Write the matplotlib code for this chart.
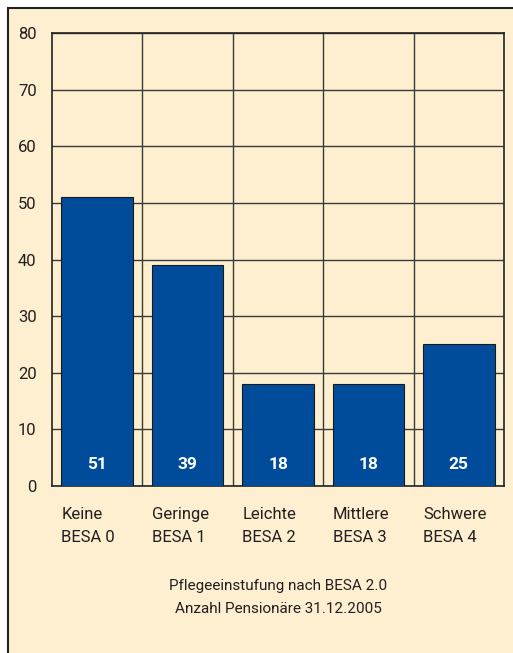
import matplotlib
matplotlib.use("Agg")
import matplotlib.pyplot as plt
from matplotlib.patches import Rectangle
from matplotlib.ticker import FixedLocator

categories = ["Keine\nBESA 0", "Geringe\nBESA 1", "Leichte\nBESA 2", "Mittlere\nBESA 3", "Schwere\nBESA 4"]
values = [51, 39, 18, 18, 25]
yticks = [0, 10, 20, 30, 40, 50, 60, 70, 80]
caption = "Pflegeeinstufung nach BESA 2.0\nAnzahl Pensionäre 31.12.2005"

FONT = ["Roboto", "DejaVu Sans"]
plt.rcParams["font.family"] = FONT

BG = "#FEEFD0"
BAR = "#004C9B"
GRID = "#3A3A3A"
TXT = "#231F20"

W, H = 513, 653
fig = plt.figure(figsize=(W / 100, H / 100), dpi=100, facecolor="white")
bgax = fig.add_axes([0, 0, 1, 1], zorder=-5)
bgax.set_xlim(0, W)
bgax.set_ylim(H, 0)
bgax.axis("off")
bgax.add_patch(Rectangle((8, 8), W + 20, H + 20, facecolor=BG,
                         edgecolor="#222222", lw=1.5))

ax = fig.add_axes([52 / W, 1 - 486 / H, (504 - 52) / W, (486 - 33) / H], zorder=1)
ax.set_facecolor(BG)
n = len(values)
x = list(range(n))
ax.bar(x, values, width=0.79, color=BAR, edgecolor="#1a1a1a", lw=0.8, zorder=3)
ax.set_xlim(-0.5, n - 0.5)
ax.set_ylim(0, 80)
ax.yaxis.set_major_locator(FixedLocator(yticks))
ax.xaxis.set_major_locator(FixedLocator([i + 0.5 for i in range(n - 1)]))
ax.grid(True, color=GRID, lw=1.0, zorder=0)
ax.tick_params(axis="x", length=0, labelbottom=False)
ax.tick_params(axis="y", length=0, labelsize=12, colors=TXT, pad=11)
for s in ax.spines.values():
    s.set_color("#222222")
    s.set_linewidth(1.2)

for i, v in enumerate(values):
    ax.text(i, 3.8, str(v), ha="center", va="center", color="white",
            fontsize=12.5, fontweight="bold", zorder=4)
    ax.text(i - 0.395, -3.7, categories[i], ha="left", va="top",
            fontsize=12, color=TXT, linespacing=1.7)

fig.text((52 + 504) / 2 / W, 1 - 579 / H, caption, ha="center", va="top",
         fontsize=11, color=TXT, linespacing=1.85)

fig.savefig("out.png", dpi=100, facecolor="white")
